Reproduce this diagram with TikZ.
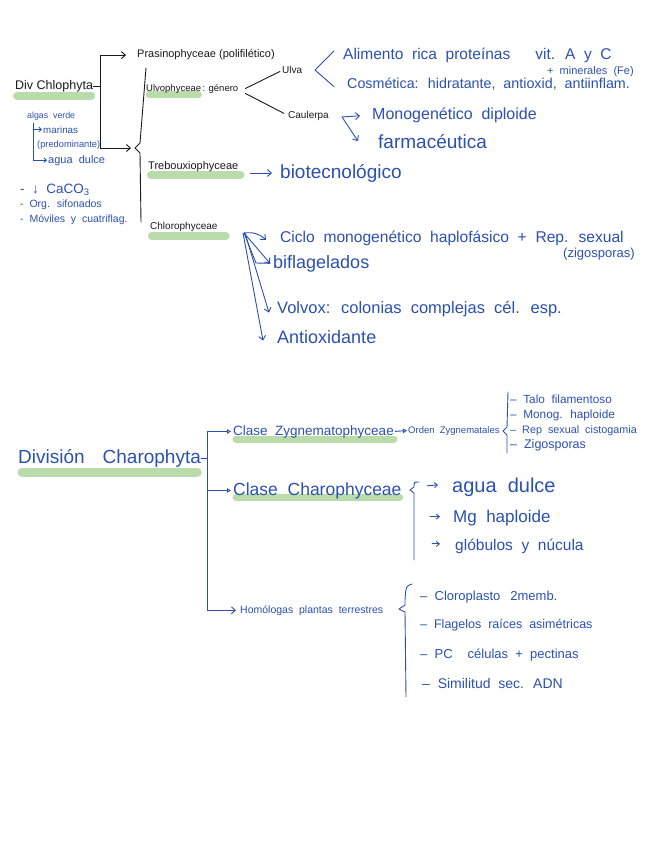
\documentclass[tikz,border=0pt]{standalone}
\usepackage{fontspec}
\setmainfont{Liberation Sans}
\newfontfamily\handfont{Liberation Sans}[WordSpace=2]
\usepackage{tikz}
\usetikzlibrary{
  arrows.meta,
  positioning,
  backgrounds,
  calc
}
\definecolor{InkBlue}{HTML}{2B50B0}
\definecolor{InkBlack}{HTML}{1A1A1A}
\definecolor{HlGreen}{HTML}{BADCAA}
\tikzset{
  % Black heading text (size in pt)
  hd/.style={
    anchor=base west, inner sep=0pt, text=InkBlack,
    font=\fontsize{#1}{#1}\selectfont
  },
  % Blue note text (size in pt)
  nt/.style={
    anchor=base west, inner sep=0pt, text=InkBlue,
    font=\handfont\fontsize{#1}{#1}\selectfont
  },
  % Barbed arrow
  arr/.style={
    -{Straight Barb[length=4pt,width=7pt]},
    line width=0.9pt, color=#1, line cap=round
  },
  % Small open triangle arrow
  tri/.style={
    -{Triangle[open,length=4pt,width=4.5pt]},
    line width=0.9pt, color=#1
  },
  % Plain ink stroke
  ink/.style={line width=0.9pt, color=#1, line cap=round, line join=round},
  % Green marker stroke
  hl/.style={line width=#1, line cap=round, color=HlGreen}
}

\begin{document}
\begin{tikzpicture}[x=1pt, y=-1pt]
  \useasboundingbox (0,0) rectangle (646,848);

  % Chlorophyta part
  \node[hd=12.5] (divchl)  at (15,90)  {Div Chlophyta};
  \node[hd=11]   (prasino) at (137,58) {Prasinophyceae (polifilético)};
  \node[hd=9.5]  (ulvo)    at (146,92) {Ulvophyceae};
  \node[hd=9.5, right=1pt of ulvo.base east, anchor=base west] (genero) {: género};
  \node[hd=10]   (ulva)    at (282,74)  {Ulva};
  \node[hd=10]   (caul)    at (288,119) {Caulerpa};
  \node[hd=11]   (treb)    at (148,169) {Trebouxiophyceae};
  \node[hd=10]   (chloro)  at (150,229) {Chlorophyceae};

  \node[nt=15.5] (alim)   at (343,60)  {Alimento rica proteínas\hspace{25pt}vit. A y C};
  \node[nt=11]   (miner)  at (547,75)  {+ minerales (Fe)};
  \node[nt=14.3] (cosm)   at (347,89)  {Cosmética: hidratante, antioxid, antiinflam.};
  \node[nt=16]   (monog)  at (372,120) {Monogenético diploide};
  \node[nt=19]   (farma)  at (378,148) {farmacéutica};
  \node[nt=19]   (biotec) at (280,178) {biotecnológico};
  \node[nt=15.6] (ciclo)  at (280,242) {Ciclo monogenético haplofásico + Rep. sexual};
  \node[nt=13]   (zigo)   at (563,257) {(zigosporas)};
  \node[nt=18]   (biflag) at (273,268) {biflagelados};
  \node[nt=16.5] (volvox) at (277,313) {Volvox: colonias complejas cél. esp.};
  \node[nt=18]   (antiox) at (277,343) {Antioxidante};

  \node[nt=8.8]  (algas)   at (27,119) {algas verde};
  \node[nt=9.8]  (marinas) at (43,133) {marinas};
  \node[nt=9.3]  (predom)  at (37,147) {(predominante)};
  \node[nt=11]   (dulceA)  at (48,163) {agua dulce};
  \node[nt=13.5] (caco)    at (20,193) {- ↓ CaCO\textsubscript{3}};
  \node[nt=10.5, below=14pt of caco.base west, anchor=base west] (sifon) {- Org. sifonados};
  \node[nt=10.5, below=15pt of sifon.base west, anchor=base west] (movil) {- Móviles y cuatriflag.};

  % Charophyta part
  \node[nt=19]   (divchar) at (18,463)  {División\hspace{18pt}Charophyta};
  \node[nt=13.5] (zygcl)   at (233,435) {Clase Zygnematophyceae};
  \node[nt=9.5]  (orden)   at (408,433) {Orden Zygnematales};
  \node[nt=11.8] (talo)    at (510,403) {– Talo filamentoso};
  \node[nt=11.8, below=15pt of talo.base west, anchor=base west]   (monoh)  {– Monog. haploide};
  \node[nt=10.8, below=15pt of monoh.base west, anchor=base west]  (repsex) {– Rep sexual cistogamia};
  \node[nt=12.5, below=15pt of repsex.base west, anchor=base west] (zigosp) {– Zigosporas};

  \node[nt=17.5] (charcl) at (233,495) {Clase Charophyceae};
  \node[nt=20]   (dulceB) at (452,492) {agua dulce};
  \node[nt=17]   (mghap)  at (453,522) {Mg haploide};
  \node[nt=15.5] (globul) at (455,550) {glóbulos y núcula};

  \node[nt=10.5] (homol)  at (240,613) {Homólogas plantas terrestres};
  \node[nt=13]   (clorop) at (420,600) {– Cloroplasto\hspace{10pt}2memb.};
  \node[nt=12.5] (flagel) at (420,628) {– Flagelos raíces asimétricas};
  \node[nt=13]   (pcel)   at (420,658) {– PC\hspace{15pt}células + pectinas};
  \node[nt=14]   (simil)  at (422,688) {– Similitud sec. ADN};

  % marker strokes
  \begin{scope}[on background layer]
    \draw[hl=8pt] ([xshift=2pt,yshift=-6pt]divchl.base west) -- ([xshift=-2pt,yshift=-6pt]divchl.base east);
    \draw[hl=7pt] ([xshift=3pt,yshift=-3pt]ulvo.base west) -- ([xshift=-3pt,yshift=-3pt]ulvo.base east);
    \draw[hl=8pt] ([xshift=3pt,yshift=-6pt]treb.base west) -- ([xshift=2pt,yshift=-6pt]treb.base east);
    \draw[hl=8pt] ([xshift=2pt,yshift=-7pt]chloro.base west) -- ([xshift=8pt,yshift=-7pt]chloro.base east);
    \draw[hl=9pt] ([xshift=4pt,yshift=-9pt]divchar.base west) -- ([xshift=-4pt,yshift=-9pt]divchar.base east);
    \draw[hl=7pt] ([xshift=3pt,yshift=-4pt]zygcl.base west) -- ([xshift=0pt,yshift=-4pt]zygcl.base east);
    \draw[hl=7pt] ([xshift=3pt,yshift=-2pt]charcl.base west) -- ([xshift=-2pt,yshift=-2pt]charcl.base east);
  \end{scope}

  % black links
  \draw[ink=InkBlack] (divchl.east) -- ++(7,0) coordinate (divspine);
  \coordinate (curly) at (135,148);
  \draw[arr=InkBlack] (divspine) |- ([xshift=-11pt]prasino.west);
  \draw[arr=InkBlack] (divspine) |- ([xshift=-4pt]curly);
  \draw[ink=InkBlack] (146,68) -- (140,143) -- (curly) -- (140,153) -- (141,222);
  \draw[ink=InkBlack] ([xshift=7pt,yshift=1pt]genero.east) -- ([xshift=-2pt,yshift=-1pt]ulva.west);
  \draw[ink=InkBlack] ([xshift=7pt,yshift=-4pt]genero.east) -- ([xshift=-4pt,yshift=3pt]caul.west);

  % blue links, upper part
  \coordinate (ulvafork) at (315,70);
  \draw[ink=InkBlue] ([xshift=-9pt,yshift=5pt]alim.west) -- (ulvafork) -- ([xshift=-13pt,yshift=-2pt]cosm.west);
  \coordinate (caulfork) at (342,117);
  \draw[arr=InkBlue] (caulfork) -- ([xshift=-12pt]monog.west);
  \draw[arr=InkBlue] (caulfork) -- ([xshift=-20pt]farma.west);
  \draw[arr=InkBlue, shorten <=12pt] (treb.east |- biotec.west) -- ([xshift=-8pt]biotec.west);
  \coordinate (chlfork) at (244,233);
  \draw[arr=InkBlue] (chlfork) to[bend left=25] ([xshift=-14pt,yshift=-2pt]ciclo.west);
  \draw[ink=InkBlue] (chlfork) -- ++(12,30) -- ([xshift=-3pt]biflag.west);
  \draw[arr=InkBlue] (chlfork) -- ([xshift=-3pt]biflag.west);
  \draw[arr=InkBlue] ([xshift=1pt]chlfork) -- ([xshift=-8pt,yshift=-4pt]volvox.west);
  \draw[arr=InkBlue] ([xshift=-1pt]chlfork) -- ([xshift=-14pt,yshift=-4pt]antiox.west);

  \draw[arr=InkBlue, -{Straight Barb[length=2.5pt,width=4.5pt]}]
    ([xshift=6pt,yshift=-2pt]algas.south west) |- ([xshift=-1pt]dulceA.west);
  \draw[arr=InkBlue, -{Straight Barb[length=2.5pt,width=4.5pt]}]
    ([xshift=6pt]algas.south west |- marinas.west) -- ([xshift=-1pt]marinas.west);

  % blue links, lower part
  \draw[ink=InkBlue] (divchar.east) -- ++(6,0) coordinate (charspine);
  \draw[tri=InkBlue] (charspine) |- ([xshift=-2pt]zygcl.west);
  \draw[tri=InkBlue] (charspine) |- ([xshift=-2pt]charcl.west);
  \draw[arr=InkBlue] (charspine) |- ([xshift=-4pt]homol.west);
  \draw[tri=InkBlue, shorten <=1pt] (zygcl.east) -- ([xshift=-1pt]orden.west);

  \draw[ink=InkBlue] (508,392) -- (507,427) -- (503,431) -- (507,435) -- (507,453);
  \draw[ink=InkBlue] (419,482) .. controls (414,482) .. (414,487) -- (410,490) -- (414,493) -- (414,560);
  \draw[ink=InkBlue] (412,584) .. controls (406,586) .. (405,600) -- (405,605) -- (399,609) -- (405,612) -- (406,697);

  \draw[arr=InkBlue, -{Straight Barb[length=3pt,width=5pt]}] ([xshift=-25pt,yshift=1pt]dulceB.west) -- ([xshift=-14pt,yshift=2pt]dulceB.west);
  \draw[arr=InkBlue, -{Straight Barb[length=3pt,width=5pt]}] ([xshift=-23pt,yshift=1pt]mghap.west) -- ([xshift=-13pt,yshift=1pt]mghap.west);
  \draw[arr=InkBlue, -{Straight Barb[length=3pt,width=5pt]}] ([xshift=-23pt,yshift=2pt]globul.west) -- ([xshift=-15pt,yshift=2pt]globul.west);
\end{tikzpicture}
\end{document}
